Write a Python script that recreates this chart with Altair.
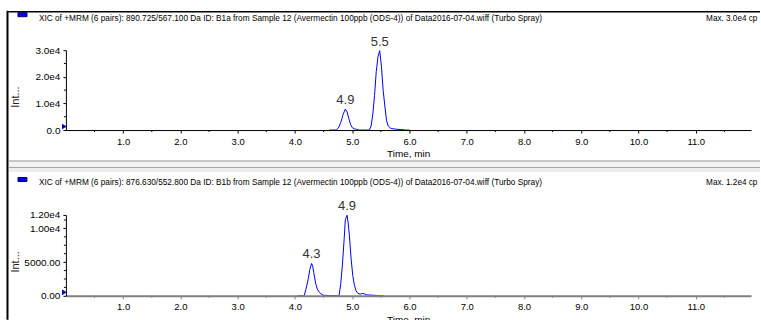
import altair as alt
import pandas as pd

FONT = "Liberation Sans"

# ---------------- data ----------------
title_top = "XIC of +MRM (6 pairs): 890.725/567.100 Da ID: B1a from Sample 12 (Avermectin 100ppb  (ODS-4)) of Data2016-07-04.wiff (Turbo Spray)"
title_bot = "XIC of +MRM (6 pairs): 876.630/552.800 Da ID: B1b from Sample 12 (Avermectin 100ppb  (ODS-4)) of Data2016-07-04.wiff (Turbo Spray)"
max_top = "Max. 3.0e4 cps"
max_bot = "Max. 1.2e4 cps"

t_top = [4.60, 4.72, 4.76, 4.80, 4.84, 4.88, 4.91, 4.94, 4.97, 5.00, 5.04, 5.08, 5.12,
         5.20, 5.30, 5.33, 5.36, 5.39, 5.42, 5.45, 5.48, 5.51, 5.54, 5.57, 5.60, 5.63,
         5.67, 5.72, 5.78, 5.85, 5.93, 6.00]
i_top = [0, 0, 800, 2800, 5800, 7900, 6800, 4400, 2200, 900, 450, 250, 0,
         0, 0, 1500, 6000, 13000, 22000, 27500, 29800, 24000, 15000, 9000, 3500, 1500,
         700, 450, 300, 200, 0, 0]

t_bot = [4.05, 4.16, 4.19, 4.23, 4.26, 4.29, 4.31, 4.33, 4.36, 4.39, 4.42, 4.46, 4.50,
         4.60, 4.70, 4.77, 4.80, 4.83, 4.86, 4.88, 4.91, 4.93, 4.95, 4.98, 5.01, 5.04,
         5.07, 5.10, 5.14, 5.18, 5.21, 5.25, 5.30, 5.38, 5.47, 5.55]
i_bot = [0, 0, 900, 2400, 3900, 4800, 4400, 3400, 1900, 1000, 600, 250, 80,
         40, 20, 0, 1800, 4700, 8500, 11300, 11950, 10800, 9000, 5600, 3000, 1500,
         700, 350, 250, 350, 300, 150, 120, 80, 0, 0]

peak_t_top = [4.88, 5.48]
peak_i_top = [7900, 29800]
peak_lab_top = ["4.9", "5.5"]
peak_t_bot = [4.29, 4.91]
peak_i_bot = [4800, 11950]
peak_lab_bot = ["4.3", "4.9"]

x_ticks = [1, 2, 3, 4, 5, 6, 7, 8, 9, 10, 11]
x_tick_labels = ["1.0", "2.0", "3.0", "4.0", "5.0", "6.0", "7.0", "8.0", "9.0", "10.0", "11.0"]
x_minor = [0.5, 1.5, 2.5, 3.5, 4.5, 5.5, 6.5, 7.5, 8.5, 9.5, 10.5, 11.5]
x_max = 11.965

y_ticks_top = [0, 10000, 20000, 30000]
y_labels_top = ["0.0", "1.0e4", "2.0e4", "3.0e4"]
y_minor_top = [5000, 15000, 25000]
y_max_top = 30000

y_ticks_bot = [0, 5000, 10000, 12000]
y_labels_bot = ["0.00", "5000.00", "1.00e4", "1.20e4"]
y_minor_bot = [1250, 2500, 3750, 6250, 7500, 8750, 11250]
y_max_bot = 12000

W = 686
H_TOP = 80
H_BOT = 81
GAP = 85


def label_expr(values, labels):
    expr = "''"
    for v, l in reversed(list(zip(values, labels))):
        expr = f"abs(datum.value - {v}) < 0.001 ? '{l}' : ({expr})"
    return expr


one = pd.DataFrame({"a": [0]})


def panel(times, ints, ymax, yt, yl, ymin, pt, pi, pl, title, maxtxt, H, top):
    xs = alt.Scale(domain=[0, x_max], nice=False, zero=False)
    ys = alt.Scale(domain=[0, ymax], nice=False, zero=False)
    dom_color = "black" if top else "#808080"
    dom_width = 1 if top else 2
    xaxis = alt.Axis(values=x_ticks, labelExpr=label_expr(x_ticks, x_tick_labels),
                     grid=False, domainColor=dom_color, domainWidth=dom_width,
                     tickColor=dom_color, tickSize=3, labelFontSize=9.5, labelPadding=3,
                     labelColor="black", labelFont=FONT, zindex=1,
                     title="Time, min", titleFont=FONT, titleFontSize=10,
                     titleFontWeight="normal", titleColor="black",
                     titleX=321, titleY=26.5, titleAlign="left", titleBaseline="alphabetic",
                     labelFlush=False, labelOverlap=False, labelBound=False)
    yaxis = alt.Axis(values=yt, labelExpr=label_expr(yt, yl), grid=False,
                     domainColor="black", tickColor="black", tickSize=3,
                     labelFontSize=10, labelPadding=3, labelColor="black", labelFont=FONT,
                     zindex=1, title="Int...", titleFont=FONT, titleFontSize=11,
                     titleFontWeight="normal", titleColor="#222",
                     titleX=-50, titleY=46.5, titleAngle=270, titleAlign="center",
                     titleBaseline="middle", labelFlush=False, labelOverlap=False,
                     labelBound=False)

    df = pd.DataFrame({"t": times, "i": ints})
    line = alt.Chart(df).mark_line(color="#0000ff", strokeWidth=1).encode(
        x=alt.X("t:Q", scale=xs, axis=xaxis),
        y=alt.Y("i:Q", scale=ys, axis=yaxis),
    )
    xmin_df = pd.DataFrame({"t": x_minor})
    xminor = alt.Chart(xmin_df).mark_rule(color=dom_color, strokeWidth=1).encode(
        x=alt.X("t:Q", scale=xs, axis=xaxis), y=alt.value(H), y2=alt.value(H + 2))
    ymin_df = pd.DataFrame({"i": ymin})
    yminor = alt.Chart(ymin_df).mark_rule(color="black", strokeWidth=1).encode(
        y=alt.Y("i:Q", scale=ys, axis=yaxis), x=alt.value(-2), x2=alt.value(0))
    lab_df = pd.DataFrame({"t": pt, "i": pi, "lab": pl})
    labels = alt.Chart(lab_df).mark_text(font=FONT, fontSize=13, color="#333",
                                         baseline="alphabetic", dy=-5).encode(
        x=alt.X("t:Q", scale=xs, axis=xaxis), y=alt.Y("i:Q", scale=ys, axis=yaxis),
        text="lab:N")

    ttl = alt.Chart(one).mark_text(font=FONT, fontSize=8.3, color="black", align="left",
                                   baseline="alphabetic").encode(
        x=alt.value(-27), y=alt.value(-29.5), text=alt.value(title))
    mx = alt.Chart(one).mark_text(font=FONT, fontSize=8.2, color="black", align="left",
                                  baseline="alphabetic", limit=54, ellipsis=" ").encode(
        x=alt.value(641), y=alt.value(-29.5), text=alt.value(maxtxt))
    sq = alt.Chart(one).mark_rect(fill="#0000ff", stroke="#000060", strokeWidth=1).encode(
        x=alt.value(-48), x2=alt.value(-39), y=alt.value(-37.5), y2=alt.value(-33.5))
    tri = alt.Chart(one).mark_point(shape="triangle-right", filled=True, color="#0000c0",
                                    size=32, opacity=1).encode(
        x=alt.value(-1.5), y=alt.value(H - 3.5))

    layers = []
    if top:
        bg = alt.Chart(one).mark_rect(fill="white").encode(
            x=alt.value(-66), x2=alt.value(695), y=alt.value(-50), y2=alt.value(270))
        split = [
            (110, 112, "#c6c6c6"), (112, 117, "#f2f2f2"),
            (117, 118, "#a4a4a4"), (118, 122, "#ededed"),
        ]
        layers.append(bg)
        for y1, y2, c in split:
            layers.append(alt.Chart(one).mark_rect(fill=c).encode(
                x=alt.value(-57), x2=alt.value(695), y=alt.value(y1), y2=alt.value(y2)))
        layers.append(alt.Chart(one).mark_rule(color="black", strokeWidth=2).encode(
            x=alt.value(-58.5), y=alt.value(-39.5), y2=alt.value(270)))
        layers.append(alt.Chart(one).mark_rule(color="black", strokeWidth=1.5).encode(
            x=alt.value(-59), x2=alt.value(695), y=alt.value(-38.5)))
    layers += [line, xminor, yminor, labels, ttl, mx, sq, tri]
    return alt.layer(*layers).properties(width=W, height=H)


top = panel(t_top, i_top, y_max_top, y_ticks_top, y_labels_top, y_minor_top,
            peak_t_top, peak_i_top, peak_lab_top, title_top, max_top, H_TOP, True)
bot = panel(t_bot, i_bot, y_max_bot, y_ticks_bot, y_labels_bot, y_minor_bot,
            peak_t_bot, peak_i_bot, peak_lab_bot, title_bot, max_bot, H_BOT, False)

chart = alt.vconcat(top, bot, spacing=GAP, bounds="flush").properties(
    padding=0, background="white"
).configure_view(stroke=None)

chart.save("out.html", embed_options={"renderer": "svg", "actions": False})
